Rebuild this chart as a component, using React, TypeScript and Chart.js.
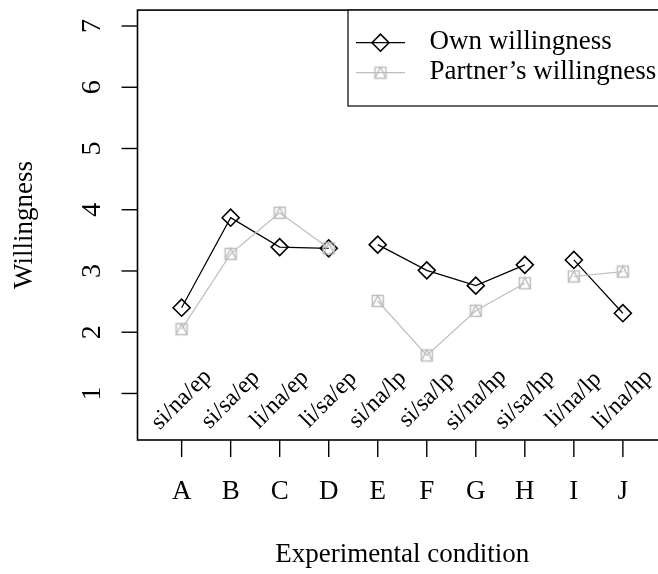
import React, { useEffect, useRef } from "react";
import { Chart, registerables } from "chart.js";

Chart.register(...registerables);

const conditions = ["A", "B", "C", "D", "E", "F", "G", "H", "I", "J"];
const conditionLabels = [
  "si/na/ep", "si/sa/ep", "li/na/ep", "li/sa/ep", "si/na/lp",
  "si/sa/lp", "si/na/hp", "si/sa/hp", "li/na/lp", "li/na/hp",
];
const ownWillingness = [2.40, 3.87, 3.39, 3.37, 3.43, 3.01, 2.76, 3.10, 3.18, 2.31];
const partnerWillingness = [2.05, 3.28, 3.95, 3.37, 2.51, 1.62, 2.35, 2.80, 2.91, 2.99];
const segmentGroups = [1, 1, 1, 1, 2, 2, 2, 2, 3, 3];
const yTicks = [1, 2, 3, 4, 5, 6, 7];
const legendLabels = ["Own willingness", "Partner\u2019s willingness"];

const OWN_COLOR = "#000000";
const PARTNER_COLOR = "#BEBEBE";
const SERIF = '"Liberation Serif", "Times New Roman", serif';

function makePartnerMarker(color: string): HTMLCanvasElement {
  const c = document.createElement("canvas");
  c.width = 18;
  c.height = 18;
  const g = c.getContext("2d")!;
  g.strokeStyle = color;
  g.lineWidth = 1.5;
  g.strokeRect(3.5, 3.5, 11, 11);
  g.beginPath();
  g.moveTo(3.5, 14.5);
  g.lineTo(9, 3.5);
  g.lineTo(14.5, 14.5);
  g.stroke();
  return c;
}

function drawDiamond(ctx: CanvasRenderingContext2D, x: number, y: number, r: number) {
  ctx.beginPath();
  ctx.moveTo(x - r, y);
  ctx.lineTo(x, y - r);
  ctx.lineTo(x + r, y);
  ctx.lineTo(x, y + r);
  ctx.closePath();
  ctx.stroke();
}

export default function App() {
  const canvasRef = useRef<HTMLCanvasElement | null>(null);

  useEffect(() => {
    document.body.style.margin = "0";
    const canvas = canvasRef.current;
    if (!canvas) return;
    const partnerMarker = makePartnerMarker(PARTNER_COLOR);

    const decorPlugin = {
      id: "rstyle",
      afterDraw(chart: any) {
        const ctx: CanvasRenderingContext2D = chart.ctx;
        const area = chart.chartArea;
        const xs = chart.scales.x;
        const ys = chart.scales.y;
        ctx.save();
        ctx.strokeStyle = "#000";
        ctx.fillStyle = "#000";
        // box
        ctx.lineWidth = 1.6;
        ctx.strokeRect(area.left, area.top, area.right - area.left, area.bottom - area.top);
        // y ticks
        ctx.lineWidth = 1.4;
        ctx.font = `28px ${SERIF}`;
        yTicks.forEach((t) => {
          const py = ys.getPixelForValue(t);
          ctx.beginPath();
          ctx.moveTo(area.left - 16, py);
          ctx.lineTo(area.left, py);
          ctx.stroke();
          ctx.save();
          ctx.translate(99.5, py);
          ctx.rotate(-Math.PI / 2);
          ctx.textAlign = "center";
          ctx.textBaseline = "alphabetic";
          ctx.fillText(String(t), 0, 0);
          ctx.restore();
        });
        // x ticks and letters
        conditions.forEach((c, i) => {
          const px = xs.getPixelForValue(i + 1);
          ctx.beginPath();
          ctx.moveTo(px, area.bottom);
          ctx.lineTo(px, area.bottom + 17);
          ctx.stroke();
          ctx.textAlign = "center";
          ctx.textBaseline = "alphabetic";
          ctx.font = `27px ${SERIF}`;
          ctx.fillText(c, px, 499);
        });
        // rotated condition labels
        ctx.font = `24px ${SERIF}`;
        conditionLabels.forEach((lab, i) => {
          const px = xs.getPixelForValue(i + 1);
          const py = ys.getPixelForValue(0.9);
          ctx.save();
          ctx.translate(px, py);
          ctx.rotate(-Math.PI / 4);
          ctx.textAlign = "center";
          ctx.textBaseline = "middle";
          ctx.fillText(lab, 0, 0);
          ctx.restore();
        });
        // axis titles
        ctx.font = `27px ${SERIF}`;
        ctx.textAlign = "center";
        ctx.textBaseline = "alphabetic";
        ctx.fillText("Experimental condition", (area.left + area.right) / 2, 562);
        ctx.save();
        ctx.translate(25, (area.top + area.bottom) / 2);
        ctx.rotate(-Math.PI / 2);
        ctx.textBaseline = "middle";
        ctx.fillText("Willingness", 0, 0);
        ctx.restore();
        // legend
        const lx0 = 348, lx1 = area.right, ly0 = area.top, ly1 = 106;
        ctx.fillStyle = "#fff";
        ctx.fillRect(lx0, ly0, lx1 - lx0, ly1 - ly0);
        ctx.lineWidth = 1.2;
        ctx.strokeStyle = "#000";
        ctx.strokeRect(lx0, ly0, lx1 - lx0, ly1 - ly0);
        const rows = [42.7, 72.7];
        ctx.strokeStyle = OWN_COLOR;
        ctx.lineWidth = 1.2;
        ctx.beginPath();
        ctx.moveTo(356, rows[0]);
        ctx.lineTo(405, rows[0]);
        ctx.stroke();
        ctx.lineWidth = 1.6;
        drawDiamond(ctx, 380.5, rows[0], 8.5);
        ctx.strokeStyle = PARTNER_COLOR;
        ctx.lineWidth = 1.2;
        ctx.beginPath();
        ctx.moveTo(356, rows[1]);
        ctx.lineTo(405, rows[1]);
        ctx.stroke();
        ctx.drawImage(partnerMarker, 380.5 - 9, rows[1] - 9);
        ctx.fillStyle = "#000";
        ctx.textAlign = "left";
        ctx.textBaseline = "alphabetic";
        ctx.font = `27px ${SERIF}`;
        ctx.fillText(legendLabels[0], 429.5, rows[0] + 6);
        ctx.fillText(legendLabels[1], 429.5, rows[1] + 6);
        ctx.restore();
      },
    };

    const segColor = (color: string) => (ctx: any) =>
      segmentGroups[ctx.p0DataIndex] === segmentGroups[ctx.p1DataIndex] ? color : "rgba(0,0,0,0)";

    const chart = new Chart(canvas, {
      type: "line",
      data: {
        datasets: [
          {
            label: legendLabels[0],
            data: ownWillingness.map((v, i) => ({ x: i + 1, y: v })),
            borderColor: OWN_COLOR,
            borderWidth: 1.2,
            pointStyle: "rectRot",
            pointRadius: 8.5,
            pointBorderWidth: 1.6,
            pointBorderColor: OWN_COLOR,
            pointBackgroundColor: "rgba(0,0,0,0)",
            tension: 0,
            order: 2,
            segment: { borderColor: segColor(OWN_COLOR) },
          },
          {
            label: legendLabels[1],
            data: partnerWillingness.map((v, i) => ({ x: i + 1, y: v })),
            borderColor: PARTNER_COLOR,
            borderWidth: 1.2,
            pointStyle: partnerMarker as any,
            pointRadius: 8.5,
            pointBorderColor: PARTNER_COLOR,
            pointBackgroundColor: "rgba(0,0,0,0)",
            tension: 0,
            order: 1,
            segment: { borderColor: segColor(PARTNER_COLOR) },
          },
        ],
      },
      options: {
        animation: false,
        responsive: false,
        events: [],
        layout: { padding: { left: 137.5, top: 8, right: 13, bottom: 134 } },
        plugins: { legend: { display: false }, tooltip: { enabled: false } },
        scales: {
          x: { type: "linear", min: 0.1, max: 10.9, display: false },
          y: { type: "linear", min: 0.24, max: 7.26, display: false },
        },
      },
      plugins: [decorPlugin],
    });
    return () => chart.destroy();
  }, []);

  return (
    <div style={{ width: 658, height: 574, overflow: "hidden", background: "#fff" }}>
      <canvas ref={canvasRef} width={680} height={574} style={{ display: "block" }} />
    </div>
  );
}
